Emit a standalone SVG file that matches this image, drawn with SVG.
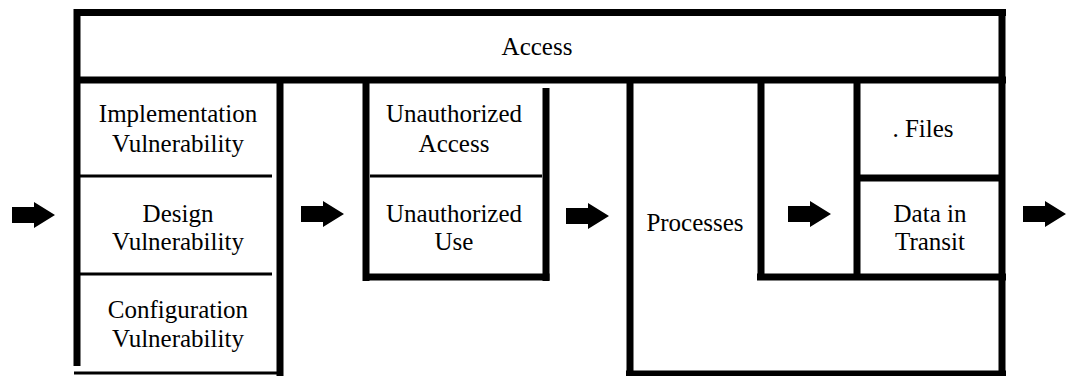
<svg xmlns="http://www.w3.org/2000/svg" xmlns:xlink="http://www.w3.org/1999/xlink" width="1070" height="376" viewBox="0 0 1070 376">
<style>
.t{font-family:'Liberation Serif','DejaVu Serif','Times New Roman',serif;font-size:25px;fill:#000;text-anchor:middle}
.k{stroke:#000;stroke-width:7;fill:none}
.n{stroke:#000;stroke-width:3;fill:none}
</style>
<defs>
<path id="arr" d="M0,-8 H22 V-13 L43,0 L22,13 V8 H0 Z" fill="#000"/>
</defs>
<rect width="1070" height="376" fill="#fff"/>
<g id="access">
<line class="k" x1="74" y1="12.5" x2="1006" y2="12.5"/>
<line class="k" x1="74" y1="80" x2="1006" y2="80"/>
<line class="k" x1="77" y1="9" x2="77" y2="366" stroke-width="6"/>
<line class="k" x1="1002" y1="9" x2="1002" y2="376" stroke-width="8"/>
<text class="t" x="537" y="55" font-family="Liberation Serif, DejaVu Serif, serif">Access</text>
</g>
<g id="vulnerabilities">
<line class="k" x1="280" y1="80" x2="280" y2="376" stroke-width="6"/>
<line class="n" x1="74" y1="373" x2="280" y2="373"/>
<line class="n" x1="80" y1="176" x2="272" y2="176"/>
<line class="n" x1="80" y1="274" x2="272" y2="274"/>
</g>
<g id="implementation">
<text class="t" x="178" y="122">Implementation</text>
<text class="t" x="178" y="152">Vulnerability</text>
</g>
<g id="design">
<text class="t" x="178" y="222">Design</text>
<text class="t" x="178" y="250">Vulnerability</text>
</g>
<g id="configuration">
<text class="t" x="178" y="318">Configuration</text>
<text class="t" x="178" y="347">Vulnerability</text>
</g>
<g id="unauthorized">
<line class="k" x1="366" y1="80" x2="366" y2="281"/>
<line class="k" x1="546" y1="88" x2="546" y2="281"/>
<line class="k" x1="363" y1="277" x2="549.5" y2="277"/>
<line class="n" x1="370" y1="176" x2="542" y2="176"/>
</g>
<g id="unauthorized-access">
<text class="t" x="454" y="122">Unauthorized</text>
<text class="t" x="454" y="152">Access</text>
</g>
<g id="unauthorized-use">
<text class="t" x="454" y="222">Unauthorized</text>
<text class="t" x="454" y="250">Use</text>
</g>
<g id="processes">
<line class="k" x1="630" y1="80" x2="630" y2="376"/>
<line class="k" x1="626" y1="374" x2="1006" y2="374" stroke-width="5"/>
<text class="t" x="695" y="231">Processes</text>
</g>
<g id="inner">
<line class="k" x1="761" y1="80" x2="761" y2="280"/>
<line class="k" x1="757" y1="277" x2="1006" y2="277"/>
<line class="k" x1="857" y1="80" x2="857" y2="277"/>
<line class="k" x1="857" y1="178" x2="1002" y2="178"/>
</g>
<g id="files">
<text class="t" x="923" y="137">. Files</text>
</g>
<g id="data-in-transit">
<text class="t" x="930" y="222">Data in</text>
<text class="t" x="930" y="250">Transit</text>
</g>
<g id="connectors">
<use xlink:href="#arr" x="12" y="215"/>
<use xlink:href="#arr" x="301" y="214"/>
<use xlink:href="#arr" x="566" y="216"/>
<use xlink:href="#arr" x="788" y="214"/>
<use xlink:href="#arr" x="1023" y="214"/>
</g>
</svg>
